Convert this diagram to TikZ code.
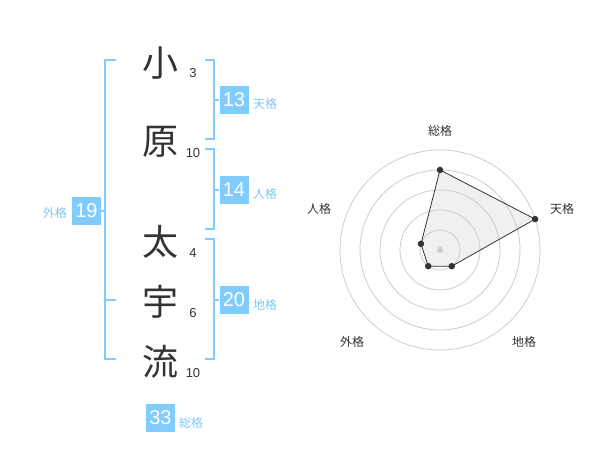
\documentclass[tikz,border=0pt]{standalone}
\usepackage{fontspec}
\setmainfont{Liberation Sans}
\newfontfamily\jpfont{Noto Sans CJK JP}
\usetikzlibrary{calc}
\definecolor{kaku}{HTML}{80CCFF}
\definecolor{kakutext}{HTML}{7FC8F5}
\definecolor{ink}{HTML}{333333}
\definecolor{ring}{HTML}{CCCCCC}
\definecolor{area}{HTML}{F0F0F0}
\begin{document}
\begin{tikzpicture}[x=1pt,y=-1pt,
  moji/.style={font=\jpfont\fontsize{36}{36}\selectfont, text=ink, inner sep=0pt},
  kakusu/.style={font=\fontsize{13}{13}\selectfont, text=ink, inner sep=0pt},
  kbox/.style={fill=kaku, text=white, minimum width=29pt, minimum height=28pt, inner sep=0pt, font=\fontsize{20}{20}\selectfont},
  klabel/.style={font=\jpfont\fontsize{12}{12}\selectfont, text=kakutext, inner sep=0pt},
  brk/.style={draw=kaku, line width=2pt},
  rlabel/.style={font=\jpfont\fontsize{12}{12}\selectfont, text=ink, inner sep=0pt},
  vdot/.style={circle, fill=ink, inner sep=0pt, minimum size=6.5pt}]
\useasboundingbox (0,0) rectangle (600,470);

\node[moji] (c1) at (160,63){小};
\node[moji] (c2) at (160,142){原};
\node[moji] (c3) at (160,242){太};
\node[moji] (c4) at (160,302){宇};
\node[moji] (c5) at (160,362){流};
\node[kakusu] (n1) at (193,73){3};
\node[kakusu] (n2) at (193,153){10};
\node[kakusu] (n3) at (193,253){4};
\node[kakusu] (n4) at (193,313){6};
\node[kakusu] (n5) at (193,373){10};

\node[kbox] (b19) at (86.5,211){19};
\node[klabel, anchor=east] (l19) at (67,213){外格};
\node[kbox] (b13) at (234,100){13};
\node[klabel, anchor=west] (l13) at (253,104){天格};
\node[kbox] (b14) at (234,190){14};
\node[klabel, anchor=west] (l14) at (253,194){人格};
\node[kbox] (b20) at (234,300){20};
\node[klabel, anchor=west] (l20) at (253,305){地格};
\node[kbox] (b33) at (160.5,418){33};
\node[klabel, anchor=west] (l33) at (179,423){総格};

\draw[brk] (116,60) -- (105,60) -- (105,359) -- (116,359);
\draw[brk] (105,300) -- (116,300);
\draw[brk] (b19.east) -- (105,211);
\draw[brk] (205,60) -- (214,60) -- (214,139) -- (205,139);
\draw[brk] (214,100) -- (b13.west);
\draw[brk] (205,149) -- (214,149) -- (214,229) -- (205,229);
\draw[brk] (214,190) -- (b14.west);
\draw[brk] (205,239) -- (214,239) -- (214,359) -- (205,359);
\draw[brk] (214,300) -- (b20.west);

\coordinate (ctr) at (440,250);
\coordinate (vSo) at ([shift={(90:80pt)}]ctr);
\coordinate (vTen) at ([shift={(18:100pt)}]ctr);
\coordinate (vChi) at ([shift={(-54:20pt)}]ctr);
\coordinate (vGai) at ([shift={(-126:20pt)}]ctr);
\coordinate (vJin) at ([shift={(162:20pt)}]ctr);
\fill[area] (vSo) -- (vTen) -- (vChi) -- (vGai) -- (vJin) -- cycle;
\foreach \r in {20,40,...,100}
  \draw[ring, line width=0.8pt] (ctr) circle[radius=\r pt];
\node[circle, fill=ring, inner sep=0pt, minimum size=6pt] (cdot) at (ctr){};
\draw[ink, line width=0.8pt] (vSo) -- (vTen) -- (vChi) -- (vGai) -- (vJin) -- cycle;
\node[vdot] (pSo) at (vSo){};
\node[vdot] (pTen) at (vTen){};
\node[vdot] (pChi) at (vChi){};
\node[vdot] (pGai) at (vGai){};
\node[vdot] (pJin) at (vJin){};

\node[rlabel] (rSo) at (440,131){総格};
\node[rlabel] (rTen) at (562,209){天格};
\node[rlabel] (rJin) at (319,209){人格};
\node[rlabel] (rGai) at (352,342){外格};
\node[rlabel] (rChi) at (524,342){地格};
\end{tikzpicture}
\end{document}
